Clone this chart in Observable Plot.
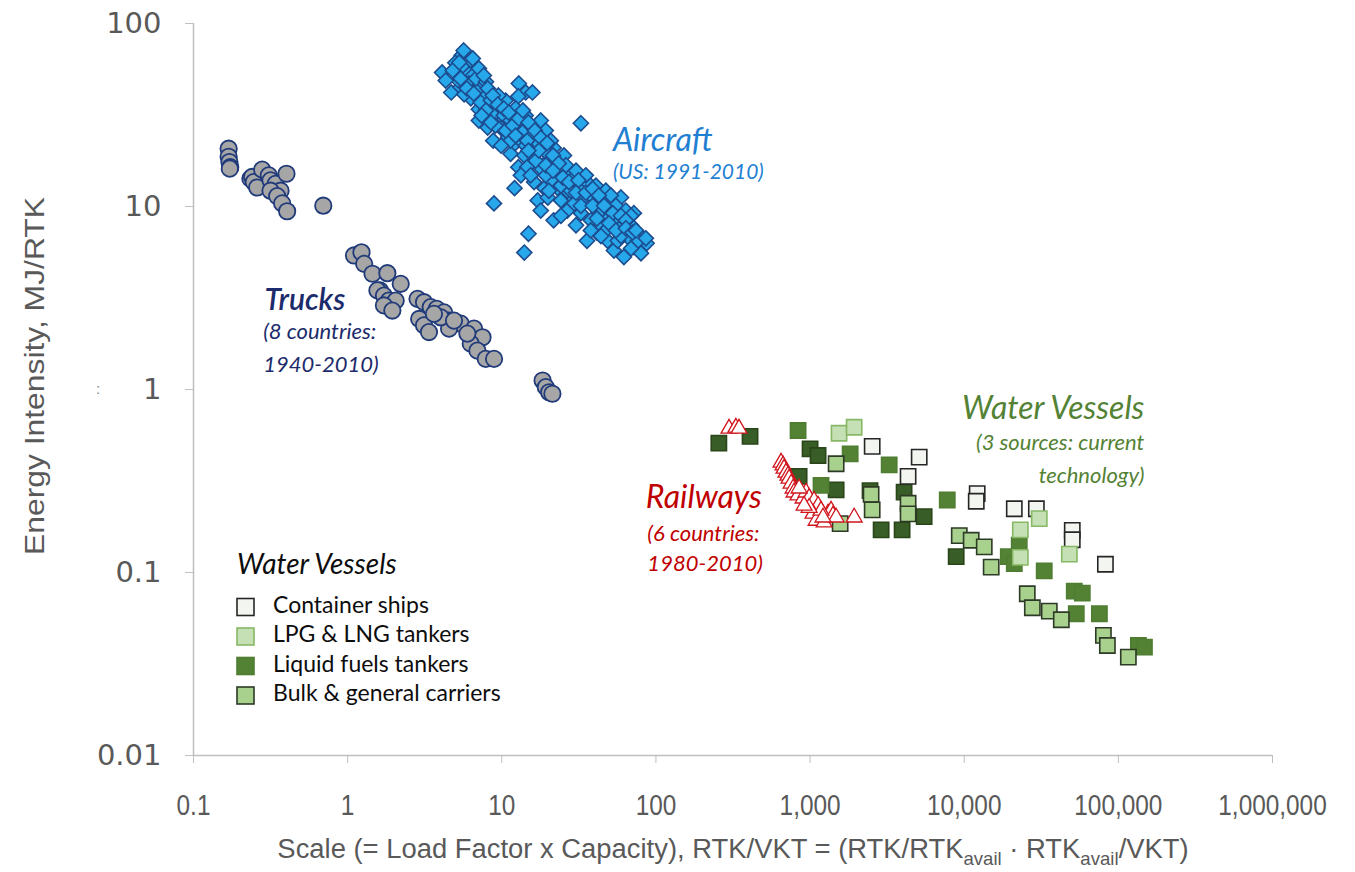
<!DOCTYPE html>
<html>
<head>
<meta charset="utf-8">
<script src="https://cdn.jsdelivr.net/npm/d3@7"></script>
<script src="https://cdn.jsdelivr.net/npm/@observablehq/plot@0.6"></script>
<style>
  html, body { margin: 0; padding: 0; background: #ffffff; }
  #chart { width: 1355px; height: 872px; }
</style>
</head>
<body>
<div id="chart"></div>
<script>
// ---------- tick values and labels ----------
const xTicks = [0.1, 1, 10, 100, 1000, 10000, 100000, 1000000];
const xTickLabels = ["0.1", "1", "10", "100", "1,000", "10,000", "100,000", "1,000,000"];
const yTicks = [0.01, 0.1, 1, 10, 100];
const yTickLabels = ["0.01", "0.1", "1", "10", "100"];

// ---------- series: [scale RTK/VKT, energy intensity MJ/RTK] ----------
const trucks = [
  [0.169,20.7],[0.169,18.7],[0.171,17.5],[0.173,16.4],[0.172,16.1],
  [0.234,14.2],[0.240,14.5],[0.246,13.6],[0.259,12.7],[0.279,15.9],[0.308,14.8],[0.316,13.9],
  [0.341,13.3],[0.367,12.2],[0.316,12.2],[0.349,11.4],[0.376,10.4],[0.405,9.42],[0.401,15.1],[0.695,10.1],
  [1.10,5.40],[1.23,5.62],[1.28,4.86],[1.45,4.29],[1.81,4.32],[2.21,3.78],[1.62,3.48],[1.56,3.48],
  [1.72,3.26],[1.85,3.06],[2.05,3.06],[1.72,2.88],[1.95,2.70],
  [2.84,3.13],[3.13,3.00],[3.46,2.82],[3.78,2.76],[4.22,2.64],[4.55,2.38],[5.42,2.29],[6.61,2.15],
  [7.50,1.93],[2.91,2.43],[3.13,2.24],[3.37,2.06],[4.55,2.15],[6.29,1.78],[6.95,1.63],[7.87,1.47],
  [8.91,1.47],[5.98,2.02],[4.02,2.48],[3.63,2.59],[4.90,2.38],
  [18.4,1.12],[19.3,1.03],[20.3,0.966],[21.3,0.948]
];

const aircraft = [
  [4.1,54],[5.5,67],[5.8,63],[6.1,59],[5.3,53],[6.0,54],[6.5,52],[4.7,42],[5.4,45],[6.1,47],[7.0,45],
  [6.3,39],[7.6,40],[7.1,34],[8.1,27],[6.8,43],[5.2,49],[5.7,41],[7.3,37],[5.6,59],[5.0,61],[6.3,63],
  [6.8,50],[7.9,48],[8.5,38],[9.1,33.5],[8.2,31],[9.9,29.5],
  [12.9,47],[14.3,42],[15.8,42],[12.8,40],[17.9,29.5],[32.6,28.5],[9.1,32.5],[10.3,31.4],[11.4,29.5],
  [9.9,26.8],[12.8,27],[14.0,26],[8.8,22.9],[11.0,23.9],[12.1,22],[13.3,22.9],[15.4,23.9],[17.1,22],
  [11.4,19.4],[14.0,19.0],[16.0,19.0],[21.7,20.9],[25.3,19.0],[19.9,17.8],[12.8,16.4],[14.6,16.4],
  [17.9,16.2],[23.0,15.0],[26.6,15.2],[29.5,14.4],[12.1,12.6],[13.3,14.8],[16.2,13.6],[18.9,12.6],
  [23.0,12.6],[26.6,12.2],[32.6,12.6],[35.7,13.6],[8.9,10.4],[17.1,10.8],[19.9,11.2],[24.2,10.8],
  [29.5,11.0],[34.0,11.2],[41.4,10.8],[48.6,10.4],[59.3,11.2],[71.9,9.2],[17.9,9.5],[21.7,8.4],
  [26.6,9.5],[32.6,9.2],[37.8,8.4],[46.1,9.1],[53.4,8.4],[59.3,7.7],[68.9,7.9],[80.0,6.9],[87,6.3],
  [35.7,6.5],[41.4,7.2],[48.6,6.5],[53.4,5.75],[62.0,5.3],[71.9,6.0],[80.0,5.55],[14.9,7.1],[14.0,5.6],
  [29.5,10.4],[44.0,9.5],[65.9,6.8],[56.6,6.5],[76.5,6.5],
  [10.6,37.9],[12.3,34.3],[9.5,40.4],[14.3,31.4],[15.4,27.7],[19.3,26],[20.8,22.9],[18.9,20.2],
  [22.4,17.8],[26.1,16.8],[30.3,15.7],[35.1,14.8],[40.8,13.0],[47.3,12.2],[37.8,11.5],[51.0,11.5],
  [55.0,10.1],[63.8,9.5],[68.9,8.9],[44.0,7.9],[30.3,7.9],[24.2,8.9],[20.8,13.9],[16.6,17.8],
  [19.3,14.8],[24.2,13.0],[7.9,33.5],[7.1,29.5],[11.4,22.9],[9.9,21.5],[14.3,21.5],[28.1,12.2],
  [32.6,10.1],[59.3,6.9],[68.9,5.9],[47.3,7.4],[9.1,27.7],[10.6,26],[5.4,50],
  [4.33,48.8],[4.81,55.4],[5.3,61.3],[5.66,71.2],[6.48,64.4],[7.1,56.8],[7.64,52.0],[5.93,44.2],
  [6.58,41.4],[8.11,44.2],[8.75,40.4],[7.4,31.4],[8.5,28.8],[9.42,36.1],[10.3,34.3],[11.1,32.6],
  [11.8,27.7],[12.9,30.3],[13.7,33.5],[14.9,28.8],[16.4,26],[12.3,24.4],[14.6,22.9],[17.9,23.7],
  [19.7,22.2],[17.4,20.2],[14.9,20.2],[21.5,19.0],[19.3,16.8],[23.4,17.2],[15.4,14.8],[21.5,15.7],
  [24.9,14.4],[27.3,13.6],[31.4,13.9],[20.2,12.2],[30.3,11.9],[35.1,11.9],[38.9,12.5],[42.6,11.5],
  [38.9,10.1],[46.1,10.1],[52.5,9.2],[59.3,8.9],[63.8,8.4],[41.4,8.6],[49.6,8.1],[55.0,7.4],
  [63.8,7.6],[70.5,7.2],[86,6.7],[74.2,7.4],[44.0,6.9],[37.8,7.4]
];

const railways = [
  [298,0.612],[330,0.620],[346,0.612],
  [648,0.399],[668,0.385],[678,0.370],[698,0.352],[719,0.339],[731,0.326],[753,0.306],[776,0.288],
  [787,0.274],[835,0.264],[901,0.254],[942,0.274],[986,0.256],[1062,0.247],[1127,0.232],[1045,0.210],
  [1094,0.192],[1233,0.188],[1309,0.210],[1368,0.218],[1409,0.205],[1476,0.200],[1178,0.218],
  [1213,0.200],[986,0.226],[914,0.232],[849,0.288],[1932,0.200]
];

// Water vessels by type
const containerShips = [
  [2529,0.489],[5105,0.427],[4325,0.335],[12140,0.270],[11970,0.245],[21130,0.223],[29380,0.223],
  [50230,0.170],[50230,0.151],[82410,0.111]
];
const lpgLngTankers = [
  [1542,0.577],[1932,0.622],[30690,0.197],[23120,0.171],[23120,0.121],[48080,0.126]
];
const liquidFuelsSourceA = [
  [836,0.597],[1820,0.445],[3260,0.387],[1178,0.299],[7762,0.249],[22750,0.141],[19320,0.122],
  [21130,0.112],[33040,0.102],[51760,0.0791],[58340,0.0771],[53330,0.0595],[75340,0.0595],
  [134900,0.0399],[147600,0.0391]
];
const liquidFuelsSourceB = [
  [256,0.509],[408,0.554],[1000,0.474],[1127,0.436],[849,0.335],[1476,0.283],[2450,0.280],
  [4074,0.275],[5495,0.202],[2891,0.171],[3954,0.171],[8870,0.122]
];
const bulkGeneral = [
  [1476,0.393],[2489,0.267],[2529,0.220],[4325,0.239],[4325,0.209],[1567,0.185],[9290,0.159],
  [11100,0.150],[13490,0.138],[14960,0.107],[25650,0.0765],[27670,0.0642],[35650,0.0615],
  [42660,0.0552],[79980,0.0453],[84870,0.0399],[116100,0.0345]
];

const legendTitle = "Water Vessels";
const legendItems = ["Container ships", "LPG & LNG tankers", "Liquid fuels tankers", "Bulk & general carriers"];

// ---------- styling ----------
const axisGray = "#bfbfbf";
const labelGray = "#595959";
const narrow = "'Liberation Sans', Arial, sans-serif";
const italicFont = "Lato, 'Open Sans', sans-serif";

const vesselStyles = [
  {fill: "#f3f5f0", stroke: "#262626"},
  {fill: "#c5e0b4", stroke: "#86b866"},
  {fill: "#548235", stroke: "#4f7d31"},
  {fill: "#a9d18e", stroke: "#2d3a26"}
];

const X = d => d[0], Y = d => d[1];
const sq = (data, st) => Plot.dot(data, {x: X, y: Y, symbol: "square", r: 8.6, fill: st.fill, stroke: st.stroke, strokeWidth: 1.6});
const note = (label, x, y, anchor, size, color, weight) =>
  Plot.text([label], {x, y, text: d => d, textAnchor: anchor, fontSize: size, fontStyle: "italic",
    fontWeight: weight || "normal", fontFamily: italicFont, fill: color});

const chart = Plot.plot({
  width: 1355,
  height: 872,
  marginLeft: 193,
  marginRight: 83,
  marginTop: 23,
  marginBottom: 117,
  x: {type: "log", domain: [0.1, 1e6]},
  y: {type: "log", domain: [0.01, 100]},
  marks: [
    Plot.ruleX([0.1], {stroke: axisGray, strokeWidth: 1.5}),
    Plot.ruleY([0.01], {stroke: axisGray, strokeWidth: 1.5}),
    Plot.axisX({ticks: xTicks, tickFormat: d => xTickLabels[xTicks.indexOf(d)], tickSize: 8, tickPadding: 31,
      fontSize: 29, fontFamily: narrow, fill: labelGray, stroke: axisGray, label: null}),
    Plot.axisY({ticks: yTicks, tickFormat: d => yTickLabels[yTicks.indexOf(d)], tickSize: 8, tickPadding: 24,
      fontSize: 29, fontFamily: "'DejaVu Sans', sans-serif", fill: labelGray, stroke: axisGray, label: null}),

    // trucks
    Plot.dot(trucks, {x: X, y: Y, r: 8.2, fill: "#a6a6a6", stroke: "#203a7a", strokeWidth: 1.8}),
    // aircraft
    Plot.dot(aircraft, {x: X, y: Y, symbol: "diamond2", r: 6.8, fill: "#26a8ea", stroke: "#1d4c8f", strokeWidth: 1.6}),
    // water vessels
    sq(liquidFuelsSourceB, {fill: "#385d26", stroke: "#2a4519"}),
    sq(liquidFuelsSourceA, vesselStyles[2]),
    sq(containerShips, vesselStyles[0]),
    sq(lpgLngTankers, vesselStyles[1]),
    sq(bulkGeneral, vesselStyles[3]),
    // railways
    Plot.dot(railways, {x: X, y: Y, symbol: "triangle", r: 5.9, fill: "white", stroke: "#d0141c", strokeWidth: 1.3}),

    // annotations
    note("Aircraft", 52.6, 22.9, "start", 32, "#1f7fd2"),
    note("(US: 1991-2010)", 52.6, 15.3, "start", 21, "#1f7fd2"),
    note("Trucks", 0.289, 3.06, "start", 30, "#1c2b6b", 600),
    note("(8 countries:", 0.283, 2.07, "start", 22, "#1c2b6b"),
    note("1940-2010)", 0.283, 1.37, "start", 22, "#1c2b6b"),
    note("Railways", 86, 0.257, "start", 32, "#c00000"),
    note("(6 countries:", 88, 0.163, "start", 22, "#c00000"),
    note("1980-2010)", 88, 0.112, "start", 22, "#c00000"),
    note("Water Vessels", 147600, 0.787, "end", 32, "#548235"),
    note("(3 sources: current", 147600, 0.513, "end", 22, "#548235"),
    note("technology)", 147600, 0.339, "end", 22, "#548235")
  ]
});

document.getElementById("chart").appendChild(chart);

// ---------- axis titles and legend ----------
const svg = d3.select(chart);

// condense the x tick labels (Calibri-like narrow look)
svg.selectAll('g[aria-label="x-axis tick label"] text').each(function() {
  const len = this.getComputedTextLength();
  this.setAttribute("textLength", (len * 0.84).toFixed(1));
  this.setAttribute("lengthAdjust", "spacingAndGlyphs");
});

// x-axis title (with subscripts), horizontally condensed by a scale transform
const xtg = svg.append("g");
const xt = xtg.append("text")
  .attr("x", 0).attr("y", 0)
  .attr("text-anchor", "middle")
  .attr("font-family", narrow).attr("font-size", 28).attr("fill", labelGray);
xt.append("tspan").text("Scale (= Load Factor x Capacity), RTK/VKT = (RTK/RTK");
xt.append("tspan").attr("font-size", 19).attr("dy", 7).text("avail");
xt.append("tspan").attr("dy", -7).text(" \u00b7 RTK");
xt.append("tspan").attr("font-size", 19).attr("dy", 7).text("avail");
xt.append("tspan").attr("dy", -7).text("/VKT)");
const xtw = xt.node().getBBox().width || 912;
xtg.attr("transform", `translate(733,858) scale(${(912 / xtw).toFixed(4)},1)`);

svg.append("text")
  .attr("transform", "translate(37,376) rotate(-90)")
  .attr("text-anchor", "middle").attr("dominant-baseline", "middle")
  .attr("font-family", narrow).attr("font-size", 28).attr("fill", labelGray)
  .attr("textLength", 358).attr("lengthAdjust", "spacingAndGlyphs")
  .text("Energy Intensity, MJ/RTK");

svg.append("text")
  .attr("x", 96).attr("y", 394).attr("text-anchor", "start")
  .attr("font-family", narrow).attr("font-size", 15).attr("fill", "#888")
  .text(":");

const lg = svg.append("g").attr("text-anchor", "start");
lg.append("text")
  .attr("x", 237).attr("y", 567).attr("dominant-baseline", "middle").attr("text-anchor", "start")
  .attr("font-family", italicFont).attr("font-style", "italic").attr("font-size", 28).attr("fill", "#0d0d0d")
  .text(legendTitle);
legendItems.forEach((name, i) => {
  const cy = 607 + i * 29.5;
  lg.append("rect")
    .attr("x", 237).attr("y", cy - 8.5).attr("width", 17).attr("height", 17)
    .attr("fill", vesselStyles[i].fill).attr("stroke", vesselStyles[i].stroke).attr("stroke-width", 1.6);
  lg.append("text")
    .attr("x", 273).attr("y", cy).attr("dominant-baseline", "middle").attr("text-anchor", "start")
    .attr("font-family", "Lato, sans-serif").attr("font-size", 23).attr("fill", "#0d0d0d")
    .text(name);
});
</script>
</body>
</html>
